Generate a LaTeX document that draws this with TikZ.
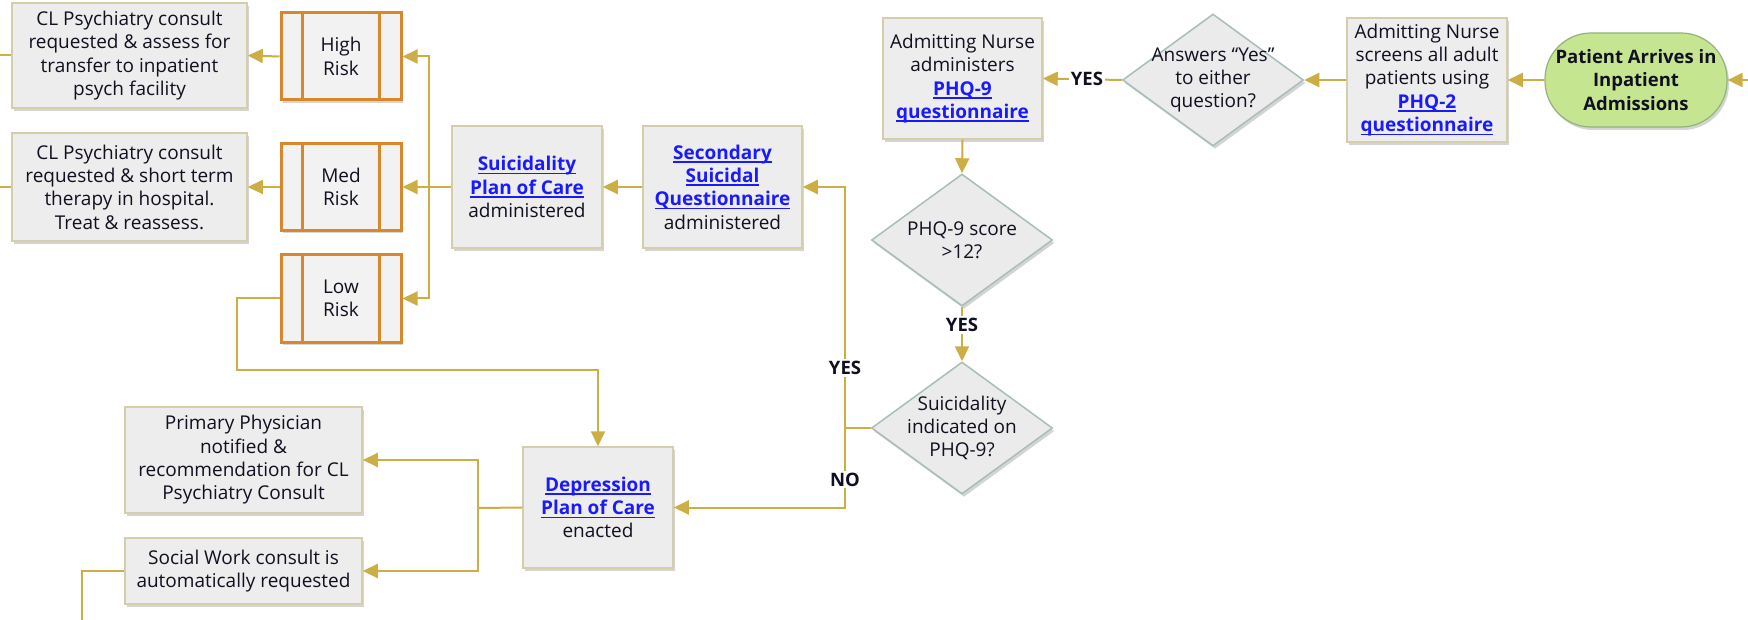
\documentclass[tikz,border=0pt]{standalone}
\usepackage{fontspec}
\setmainfont{Open Sans}
\usetikzlibrary{arrows.meta,shadows,calc,shapes.geometric}

\definecolor{connc}{HTML}{CDAE45}
\definecolor{boxfill}{HTML}{EDEDED}
\definecolor{boxline}{HTML}{D6CDAA}
\definecolor{diafill}{HTML}{EBEBEB}
\definecolor{dialine}{HTML}{A9BEB8}
\definecolor{riskline}{HTML}{D8872A}
\definecolor{riskfill}{HTML}{F2F2F2}
\definecolor{startfill}{HTML}{C6E590}
\definecolor{startline}{HTML}{95B27C}
\definecolor{linkblue}{HTML}{1A1AFF}
\definecolor{ink}{HTML}{101020}

% bold blue underlined hyperlink text
\newcommand{\lnk}[1]{\textcolor{linkblue}{\bfseries\setbox0\hbox{#1}\rlap{\rule[-3.5pt]{\wd0}{1.5pt}}\box0}}

\tikzset{
  shade/.style={drop shadow={shadow xshift=2pt, shadow yshift=-3pt, opacity=0.28, fill=black!60}},
  txt/.style={text=ink, font=\fontsize{19}{23.3}\selectfont, align=center},
  procbox/.style={txt, shade, rectangle, draw=boxline, fill=boxfill, line width=1.5pt, inner sep=0pt},
  riskbox/.style={txt, shade, rectangle, draw=riskline, fill=riskfill, line width=3pt, inner sep=0pt,
    minimum width=120pt, minimum height=87pt},
  dia/.style={shade, diamond, draw=dialine, fill=diafill, line width=1.5pt, inner sep=0pt,
    minimum width=181pt, minimum height=132pt},
  dtext/.style={txt},
  startbox/.style={txt, font=\fontsize{18.5}{23.3}\selectfont\bfseries, shade, rectangle,
    rounded corners=46pt, draw=startline, fill=startfill, line width=1.2pt,
    minimum width=182pt, minimum height=94pt, inner sep=0pt},
  conn/.style={draw=connc, line width=2pt, -{Triangle[length=15pt,width=14pt]}},
  plain/.style={draw=connc, line width=2pt},
  lab/.style={fill=white, text=ink, font=\fontsize{18.5}{20}\selectfont\bfseries, inner sep=2pt}
}

\begin{document}
\begin{tikzpicture}[x=1pt, y=-1pt]
\useasboundingbox (0,0) rectangle (1748,620);
\fill[white] (0,0) rectangle (1748,620);

% screening row
\node[startbox] (start) at (1636,80) {Patient Arrives in\\Inpatient\\Admissions};
\node[procbox, minimum width=160pt, minimum height=124pt] (phqtwo) at (1427,80)
  {Admitting Nurse\\screens all adult\\patients using\\\lnk{PHQ-2}\\\lnk{questionnaire}};
\node[dia] (ansd) at (1213,80) {};
\node[dtext] (ansdt) at (ansd.center) {Answers “Yes”\\to either\\question?};
\node[procbox, minimum width=159pt, minimum height=121pt] (phqnine) at (962.5,78.5)
  {Admitting Nurse\\administers\\\lnk{PHQ-9}\\\lnk{questionnaire}};

% decisions on the PHQ-9 result
\node[dia] (dscore) at (962,240) {};
\node[dtext] (dscoret) at (dscore.center) {PHQ-9 score\\>12?};
\node[dia] (dsui) at (962,428) {};
\node[dtext] (dsuit) at (dsui.center) {Suicidality\\indicated on\\PHQ-9?};

% suicidality branch
\node[procbox, minimum width=159pt, minimum height=122pt] (ssq) at (722.5,187)
  {\lnk{Secondary}\\\lnk{Suicidal}\\\lnk{Questionnaire}\\administered};
\node[procbox, minimum width=150pt, minimum height=122pt] (spc) at (527,187)
  {\lnk{Suicidality}\\\lnk{Plan of Care}\\administered};

\node[riskbox] (high) at (341,56.5) {High\\Risk};
\node[riskbox] (med) at (341,187) {Med\\Risk};
\node[riskbox] (low) at (341,298.5) {Low\\Risk};
\foreach \r in {high,med,low}{
  \draw[riskline, line width=3pt] ([xshift=23pt]\r.north west) -- ([xshift=23pt]\r.south west);
  \draw[riskline, line width=3pt] ([xshift=-23pt]\r.north east) -- ([xshift=-23pt]\r.south east);
}

\node[procbox, minimum width=235pt, minimum height=105pt] (clA) at (129.5,55.5)
  {CL Psychiatry consult\\requested \& assess for\\transfer to inpatient\\psych facility};
\node[procbox, minimum width=235pt, minimum height=108pt] (clB) at (129.5,187)
  {CL Psychiatry consult\\requested \& short term\\therapy in hospital.\\Treat \& reassess.};

% depression branch
\node[procbox, minimum width=150pt, minimum height=121pt] (dep) at (598,507.5)
  {\lnk{Depression}\\\lnk{Plan of Care}\\enacted};
\node[procbox, minimum width=237pt, minimum height=106pt] (prim) at (243.5,460)
  {Primary Physician\\notified \&\\recommendation for CL\\Psychiatry Consult};
\node[procbox, minimum width=237pt, minimum height=66pt] (sw) at (243.5,571)
  {Social Work consult is\\automatically requested};

% connector corners and free ends
\coordinate (inR) at (1748,80);
\coordinate (edgeL) at (0,0);
\coordinate (jn) at (845,428);
\coordinate (rk) at (429,187);
\coordinate (lr) at (237,370);
\coordinate (dj) at (478,508);
\coordinate (swout) at (82,620);

% connectors
\draw[conn] (inR) -- (start.east);
\draw[conn] (start.west) -- (phqtwo.east);
\draw[conn] (phqtwo.west) -- (ansd.east);
\draw[conn] (ansd.west) -- node[lab, pos=0.44] (yesA) {YES} (phqnine.east);
\draw[conn] (phqnine.south) -- (dscore.north);
\draw[conn] (dscore.south) -- node[lab, pos=0.33] (yesB) {YES} (dsui.north);
\draw[plain] (dsui.west) -- (jn);
\draw[conn] (jn) -- node[lab, pos=0.25] (yesC) {YES} (jn |- ssq.east) -- (ssq.east);
\draw[conn] (jn) -- node[lab, pos=0.65] (noA) {NO} (jn |- dep.east) -- (dep.east);
\draw[conn] (ssq.west) -- (spc.east);
\draw[plain] (spc.west) -- (rk);
\draw[conn] (rk) |- (high.east);
\draw[conn] (rk) -- (med.east);
\draw[conn] (rk) |- (low.east);
\draw[conn] (high.west) -- (clA.east);
\draw[conn] (med.west) -- (clB.east);
\draw[plain] (clA.west) -- (clA.west -| edgeL);
\draw[plain] (clB.west) -- (clB.west -| edgeL);
\draw[conn] (low.west) -| (lr) -| (dep.north);
\draw[plain] (dep.west) -- (dj);
\draw[conn] (dj) |- (prim.east);
\draw[conn] (dj) |- (sw.east);
\draw[plain] (sw.west) -| (swout);
\end{tikzpicture}
\end{document}
